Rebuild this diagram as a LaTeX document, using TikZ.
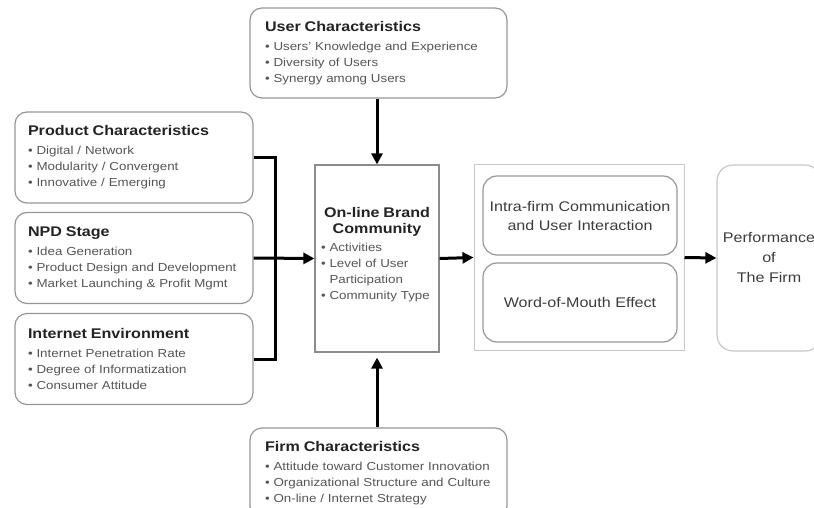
\documentclass[tikz,border=0pt]{standalone}
\usepackage{fontspec}
\setmainfont{Liberation Sans}[FakeStretch=1.15]
\usetikzlibrary{arrows.meta,positioning}
\definecolor{boxG}{RGB}{150,150,150}
\definecolor{frmG}{RGB}{200,200,200}
\definecolor{ttlK}{RGB}{35,35,35}
\definecolor{itmK}{RGB}{85,85,85}
\definecolor{midK}{RGB}{60,60,60}
\newcommand{\hd}[1]{{\fontsize{14}{17}\selectfont\bfseries\color{ttlK}#1}}
\newcommand{\bul}{\textbullet\ }

\begin{document}
\begin{tikzpicture}[
  x=1pt, y=-1pt,
  box/.style={draw=boxG, line width=1.2pt, rounded corners=12pt, align=left,
    inner ysep=4pt, text=itmK, font=\fontsize{11.6}{16}\selectfont},
  side/.style={box, inner xsep=13pt, text width=212pt, minimum height=91pt},
  wide/.style={box, inner xsep=15pt, text width=227pt, minimum height=90pt},
  core/.style={box, draw=black!45, rounded corners=0pt, inner xsep=6pt,
    text width=112pt, minimum height=187pt},
  group/.style={draw=frmG, line width=1pt, minimum width=210pt, minimum height=185pt},
  effect/.style={draw=boxG, line width=1.2pt, rounded corners=14pt, align=center,
    minimum width=194pt, minimum height=79pt, text=midK,
    font=\fontsize{14}{19}\selectfont},
  result/.style={draw=frmG, line width=1.2pt, rounded corners=16pt, align=center,
    minimum width=104pt, minimum height=186pt, text=midK,
    font=\fontsize{14}{20}\selectfont},
  arr/.style={line width=3pt, -{Triangle[length=11pt,width=11pt]}},
  link/.style={line width=3pt}
]
\useasboundingbox (0,0) rectangle (814,508);

% antecedents
\node[wide] (user) at (378.5,53) {\hd{User Characteristics}\\[3pt]
  \bul Users' Knowledge and Experience\\ \bul Diversity of Users\\ \bul Synergy among Users};
\node[side] (prod) at (134,157.5) {\hd{Product Characteristics}\\[3pt]
  \bul Digital / Network\\ \bul Modularity / Convergent\\ \bul Innovative / Emerging};
\node[side] (npd) at (134,258) {\hd{NPD Stage}\\[3pt]
  \bul Idea Generation\\ \bul Product Design and Development\\ \bul Market Launching \& Profit Mgmt};
\node[side] (inet) at (134,359) {\hd{Internet Environment}\\[3pt]
  \bul Internet Penetration Rate\\ \bul Degree of Informatization\\ \bul Consumer Attitude};
\node[wide] (firm) at (378.5,473) {\hd{Firm Characteristics}\\[3pt]
  \bul Attitude toward Customer Innovation\\ \bul Organizational Structure and Culture\\ \bul On-line / Internet Strategy};

% community
\node[core] (obc) at (377,258.5) {\makebox[\hsize]{\hd{On-line Brand}}\\
  \makebox[\hsize]{\hd{Community}}\\[2pt]
  \bul Activities\\ \bul Level of User\\ \phantom{\bul}Participation\\ \bul Community Type\\[-6pt] \mbox{}};

% outcomes
\node[group] (grp) at (579,257.5) {};
\node[effect] (comm) at (580,215.5) {Intra-firm Communication\\and User Interaction};
\node[effect] (wom) at (580,302.5) {Word-of-Mouth Effect};
\node[result] (perf) at (769,258) {Performance\\of\\The Firm};

% connectors
\coordinate (jn) at (275,258);
\draw[link] (prod.east) -| (jn) |- (inet.east);
\draw[arr] (npd.east) -- (obc.west);
\draw[arr] (obc.north |- user.south) -- (obc.north);
\draw[arr] (obc.south |- firm.north) -- ([yshift=-5pt]obc.south);
\draw[arr] (obc.east) -- (grp.west);
\draw[arr] (grp.east) -- (perf.west);
\end{tikzpicture}
\end{document}
